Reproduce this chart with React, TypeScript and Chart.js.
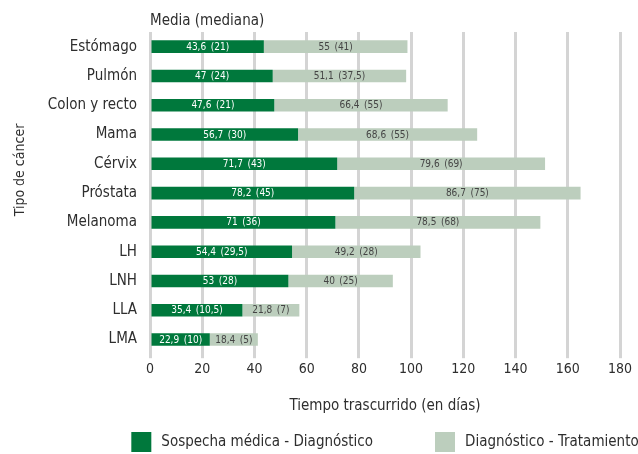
import React, { useEffect, useRef } from "react";
import { Chart, registerables } from "chart.js";

Chart.register(...registerables);

const categories = ["Estómago", "Pulmón", "Colon y recto", "Mama", "Cérvix", "Próstata", "Melanoma", "LH", "LNH", "LLA", "LMA"];
const sospechaMedia = [43.6, 47, 47.6, 56.7, 71.7, 78.2, 71, 54.4, 53, 35.4, 22.9];
const sospechaMediana = [21, 24, 21, 30, 43, 45, 36, 29.5, 28, 10.5, 10];
const tratamientoMedia = [55, 51.1, 66.4, 68.6, 79.6, 86.7, 78.5, 49.2, 40, 21.8, 18.4];
const tratamientoMediana = [41, 37.5, 55, 55, 69, 75, 68, 28, 25, 7, 5];
const seriesNames = ["Sospecha médica - Diagnóstico", "Diagnóstico - Tratamiento"];
const xMax = 180;
const xStep = 20;

const FONT = "'DejaVu Sans Condensed', 'DejaVu Sans', sans-serif";
const DARK = "#00783c";
const LIGHT = "#bccebd";
const TEXT = "#2e2e2e";

const fmt = (n: number) => String(n).replace(".", ",");

const labelsPlugin = {
  id: "barLabels",
  afterDatasetsDraw(chart: any) {
    const ctx = chart.ctx;
    const medianas = [sospechaMediana, tratamientoMediana];
    const colors = ["#ffffff", "#444444"];
    ctx.save();
    ctx.font = `10px ${FONT}`;
    ctx.textAlign = "center";
    ctx.textBaseline = "middle";
    chart.data.datasets.forEach((ds: any, di: number) => {
      const meta = chart.getDatasetMeta(di);
      meta.data.forEach((bar: any, i: number) => {
        const cx = (bar.x + bar.base) / 2;
        ctx.fillStyle = colors[di];
        ctx.fillText(`${fmt(ds.data[i])}\u2002(${fmt(medianas[di][i])})`, cx, bar.y + 0.5);
      });
    });
    ctx.restore();
  },
};

const extrasPlugin = {
  id: "extras",
  afterDraw(chart: any) {
    const ctx = chart.ctx;
    const area = chart.chartArea;
    ctx.save();
    // subtitle
    ctx.font = `15px ${FONT}`;
    ctx.fillStyle = TEXT;
    ctx.textAlign = "left";
    ctx.textBaseline = "middle";
    ctx.fillText("Media (mediana)", area.left, 21);
    // y axis title
    ctx.save();
    ctx.translate(20, 170);
    ctx.rotate(-Math.PI / 2);
    ctx.textAlign = "center";
    ctx.font = `14px ${FONT}`;
    ctx.fillText("Tipo de cáncer", 0, 0);
    ctx.restore();
    // legend
    ctx.font = `15px ${FONT}`;
    ctx.textAlign = "left";
    const box = 20;
    const gapText = 10;
    const gapItems = 62;
    const widths = seriesNames.map((t) => box + gapText + ctx.measureText(t).width);
    const total = widths[0] + widths[1] + gapItems;
    let x = (area.left + area.right) / 2 - total / 2;
    const y = 442;
    chart.data.datasets.forEach((ds: any, i: number) => {
      ctx.fillStyle = ds.backgroundColor;
      ctx.fillRect(x, y - box / 2, box, box);
      ctx.fillStyle = TEXT;
      ctx.fillText(seriesNames[i], x + box + gapText, y);
      x += widths[i] + gapItems;
    });
    ctx.restore();
  },
};

export default function App() {
  const ref = useRef<HTMLCanvasElement>(null);
  useEffect(() => {
    if (!ref.current) return;
    const chart = new Chart(ref.current, {
      type: "bar",
      data: {
        labels: categories,
        datasets: [
          { label: seriesNames[0], data: sospechaMedia, backgroundColor: DARK, barPercentage: 0.86, categoryPercentage: 0.5 },
          { label: seriesNames[1], data: tratamientoMedia, backgroundColor: LIGHT, barPercentage: 0.86, categoryPercentage: 0.5 },
        ],
      },
      options: {
        indexAxis: "y",
        animation: false,
        responsive: false,
        layout: { padding: { top: 32, bottom: 35, left: 0, right: 18 } },
        plugins: { legend: { display: false }, tooltip: { enabled: false } },
        scales: {
          x: {
            stacked: true,
            min: 0,
            max: xMax,
            ticks: { stepSize: xStep, color: TEXT, font: { family: FONT, size: 14 }, padding: 3 },
            grid: { color: "#d4d4d4", lineWidth: 3, tickLength: 4, drawTicks: true },
            border: { display: false },
            title: { display: true, text: "Tiempo trascurrido (en días)", color: TEXT, font: { family: FONT, size: 15 }, padding: { top: 16, bottom: 4 } },
          },
          y: {
            stacked: true,
            grid: { display: false, drawTicks: false },
            border: { display: false },
            ticks: { color: TEXT, font: { family: FONT, size: 15 }, padding: 13 },
            afterFit: (scale: any) => { scale.width = 150; },
          },
        },
      },
      plugins: [labelsPlugin, extrasPlugin],
    });
    return () => chart.destroy();
  }, []);
  return (
    <div style={{ position: "fixed", left: 0, top: 0, width: 638, height: 454, background: "#fff" }}>
      <canvas ref={ref} width={638} height={454} />
    </div>
  );
}
